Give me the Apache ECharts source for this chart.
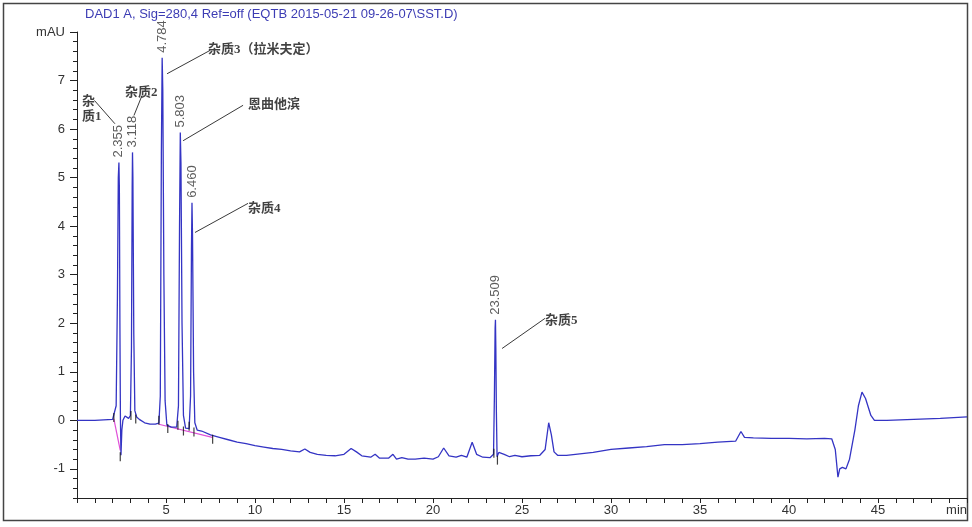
<!DOCTYPE html>
<html>
<head>
<meta charset="utf-8">
<script src="https://cdn.jsdelivr.net/npm/echarts@6/dist/echarts.min.js"></script>
<style>
html,body{margin:0;padding:0;background:#fff;}
#chart{width:972px;height:527px;}
</style>
</head>
<body>
<div id="chart"></div>
<script>
// ---- data ----
const titleText = 'DAD1 A, Sig=280,4 Ref=off (EQTB 2015-05-21 09-26-07\\SST.D)';
const times = [0,0.5,1.0,1.5,2.0,2.1,2.2,2.27,2.32,2.355,2.38,2.41,2.44,2.47,2.52,2.58,2.7,2.8,2.9,3.0,3.06,3.1,3.118,3.14,3.19,3.25,3.35,3.5,3.8,4.1,4.4,4.6,4.68,4.74,4.784,4.82,4.88,4.95,5.05,5.3,5.6,5.7,5.76,5.803,5.84,5.9,5.98,6.1,6.3,6.38,6.43,6.46,6.49,6.55,6.62,6.75,7.0,7.5,8.0,8.5,9.0,9.5,10.0,10.5,11.0,11.5,12.0,12.5,12.8,13.1,13.5,14.0,14.5,15.0,15.4,15.7,16.0,16.5,16.75,17.0,17.5,17.75,17.95,18.25,18.6,19.0,19.5,20.0,20.3,20.6,20.9,21.3,21.6,21.9,22.2,22.45,22.8,23.2,23.4,23.45,23.49,23.509,23.53,23.56,23.6,23.7,23.85,24.0,24.3,24.6,25.0,25.5,26.0,26.3,26.5,26.65,26.8,27.0,27.5,28,29,30,31,32,33,34,35,36,37,37.3,37.5,38,39,40,41,42,42.4,42.6,42.75,42.85,43.0,43.2,43.4,43.7,43.9,44.1,44.3,44.6,44.8,45.5,47,48.5,50];
const signal = [0.0,0.0,0.0,0.01,0.02,0.03,0.3,2.5,5.0,5.31,4.8,2.0,0.0,-0.72,-0.2,0.0,0.09,0.05,0.04,0.1,1.5,4.8,5.52,5.0,1.8,0.2,0.07,0.02,-0.05,-0.08,-0.08,-0.06,0.5,5.5,7.47,6.8,3.0,0.4,-0.1,-0.14,-0.14,0.3,4.0,5.93,5.3,2.0,0.1,-0.16,-0.17,0.5,3.5,4.48,3.8,1.0,-0.05,-0.2,-0.22,-0.3,-0.35,-0.4,-0.45,-0.48,-0.52,-0.55,-0.58,-0.6,-0.63,-0.65,-0.59,-0.66,-0.7,-0.72,-0.73,-0.7,-0.58,-0.65,-0.73,-0.76,-0.7,-0.78,-0.78,-0.7,-0.8,-0.77,-0.8,-0.8,-0.78,-0.8,-0.75,-0.57,-0.73,-0.76,-0.72,-0.76,-0.45,-0.7,-0.76,-0.77,-0.7,0.5,1.9,2.07,1.5,0.2,-0.75,-0.66,-0.68,-0.7,-0.75,-0.72,-0.75,-0.73,-0.72,-0.6,-0.05,-0.3,-0.65,-0.72,-0.72,-0.7,-0.66,-0.6,-0.57,-0.54,-0.5,-0.5,-0.48,-0.45,-0.43,-0.23,-0.35,-0.36,-0.37,-0.37,-0.38,-0.37,-0.38,-0.6,-1.17,-1.0,-0.97,-1.0,-0.8,-0.2,0.3,0.58,0.45,0.1,0.0,0.0,0.02,0.04,0.07];
const peakTimes = [2.355,3.118,4.784,5.803,6.460,23.509];
const peakHeights = [5.31,5.52,7.47,5.93,4.48,2.07];
const peakLabels = ['2.355','3.118','4.784','5.803','6.460','23.509'];
const baselineA = [[2.07,0.03],[2.43,-0.62]];
const baselineB = [[4.6,-0.08],[7.6,-0.35]];
const eventTimes = [2.07,2.43,3.03,3.3,4.6,5.1,5.67,5.98,6.3,6.57,7.62,23.42,23.62];
const eventValues = [0.06,-0.75,0.1,0.03,0.0,-0.17,-0.1,-0.22,-0.12,-0.24,-0.39,-0.68,-0.82];
const annoNames = ['杂\n质1','杂质2','杂质3（拉米夫定）','恩曲他滨','杂质4','杂质5'];
const annoTextAnchor = [[0.28,6.73],[2.70,6.90],[7.36,7.80],[9.61,6.65],[9.61,4.51],[26.29,2.20]];
const annoLineStart = [[0.98,6.59],[3.65,6.69],[7.47,7.62],[9.33,6.49],[9.61,4.47],[26.29,2.10]];
const annoLineEnd = [[2.13,6.11],[3.20,6.28],[5.06,7.14],[5.96,5.76],[6.63,3.87],[23.88,1.48]];
const xTickLabels = {0:'',5:'5',10:'10',15:'15',20:'20',25:'25',30:'30',35:'35',40:'40',45:'45',50:'min'};
const yMajor = [-1,0,1,2,3,4,5,6,7,8];
const yTickLabels = {'-1':'-1','0':'0','1':'1','2':'2','3':'3','4':'4','5':'5','6':'6','7':'7','8':'mAU'};

// ---- chart ----
const chart = echarts.init(document.getElementById('chart'), null, {renderer:'canvas'});
const trace = times.map((t,i)=>[t, signal[i]]);
const peaks = peakTimes.map((t,i)=>({value:[t, peakHeights[i]], name: peakLabels[i]}));
const events = eventTimes.map((t,i)=>[t, eventValues[i]]);
const annos = annoNames.map((n,i)=>({value: annoTextAnchor[i], name: n}));
const leaders = annoLineStart.map((s,i)=>[{coord:s},{coord:annoLineEnd[i]}]);
const axisFont = {color:'#333', fontSize:13, fontFamily:'"Liberation Sans", Arial, sans-serif'};

chart.setOption({
  animation:false,
  backgroundColor:'#fff',
  title:{text:titleText, left:80, top:3, textStyle:{color:'#3c3cb4', fontSize:13, fontWeight:'normal', fontFamily:'"Liberation Sans", Arial, sans-serif'}},
  grid:{left:77, right:5, top:32, bottom:29, containLabel:false, outerBoundsMode:'none'},
  graphic:[{type:'rect', shape:{x:3.5, y:3.5, width:964, height:517}, style:{fill:'none', stroke:'#444', lineWidth:1.5}, silent:true, z:-1}],
  xAxis:{type:'value', min:0, max:50, interval:5,
    axisLine:{onZero:false, lineStyle:{color:'#222', width:1}},
    axisTick:{length:5, lineStyle:{color:'#222'}},
    minorTick:{show:true, splitNumber:5, length:5, lineStyle:{color:'#222'}},
    splitLine:{show:false}, minorSplitLine:{show:false},
    axisLabel:Object.assign({margin:6, alignMaxLabel:'right', formatter:v=>xTickLabels[v] !== undefined ? xTickLabels[v] : String(v)}, axisFont)},
  yAxis:[
    {type:'value', min:-1.6, max:8, position:'left',
      axisLine:{show:true, onZero:false, lineStyle:{color:'#222', width:1}},
      axisTick:{show:true, length:7, customValues:yMajor, lineStyle:{color:'#222'}},
      axisLabel:Object.assign({margin:12, customValues:yMajor, formatter:v=>{const k=String(Math.round(v)); return yTickLabels[k]!==undefined?yTickLabels[k]:'';}}, axisFont),
      splitLine:{show:false}},
    {type:'value', min:-1.6, max:8, interval:0.2, position:'left',
      axisLine:{show:false, onZero:false}, axisTick:{show:true, length:4, lineStyle:{color:'#222'}},
      axisLabel:{show:false}, splitLine:{show:false}}
  ],
  series:[
    {type:'line', data:baselineA, showSymbol:false, lineStyle:{color:'#e050d8', width:1.2}, z:3},
    {type:'line', data:baselineB, showSymbol:false, lineStyle:{color:'#e050d8', width:1.2}, z:3},
    {type:'line', data:trace, showSymbol:false, lineStyle:{color:'#3434c4', width:1.3}, z:4},
    {type:'scatter', data:events, symbol:'rect', symbolSize:[1.2,9], itemStyle:{color:'#111'}, z:5},
    {type:'scatter', data:peaks, symbolSize:0, z:6,
      label:{show:true, formatter:p=>p.name, rotate:90, position:'top', distance:5, align:'left', verticalAlign:'middle', color:'#333', fontSize:13, fontFamily:'"Liberation Sans", Arial, sans-serif'}},
    {type:'scatter', data:annos, symbolSize:0, z:6,
      label:{show:true, formatter:p=>p.name, position:[0,0], align:'left', verticalAlign:'top', color:'#111', fontSize:13, fontWeight:'bold', lineHeight:15, fontFamily:'"Liberation Serif", "Noto Sans CJK SC", serif'},
      markLine:{silent:true, symbol:['none','none'], label:{show:false}, lineStyle:{color:'#222', width:0.9, type:'solid'}, data:leaders}}
  ]
});
</script>
</body>
</html>
